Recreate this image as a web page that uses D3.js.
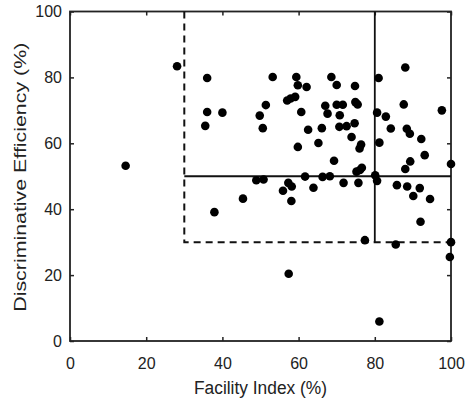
<!DOCTYPE html>
<meta charset="utf-8">

<script src="https://cdn.jsdelivr.net/npm/d3@7"></script>

<style>
    body { margin: 0; background: #fff; }
    text { font-family: "Liberation Sans", Arial, sans-serif; fill: #222; }
</style>

<div id="my_dataviz"></div>

<script>
    // facility index (%) and discriminative efficiency (%) per item
    const facility = [
        14.6, 28.1, 36.0, 36.0, 35.5, 40.0, 37.9, 45.4, 53.2, 51.4,
        49.8, 50.6, 48.9, 50.8, 55.9, 57.3, 58.2, 58.1, 57.4, 57.0,
        57.9, 59.1, 59.4, 59.8, 60.7, 59.8, 62.1, 62.5, 61.7, 63.9,
        65.2, 66.1, 66.3, 67.0, 67.6, 68.6, 68.2, 69.3, 70.0, 70.0,
        71.6, 70.8, 70.7, 72.6, 71.8, 73.9, 74.7, 74.8, 74.9, 75.5,
        76.0, 76.4, 75.7, 75.2, 76.1, 76.6, 77.4, 80.1, 80.6, 81.0,
        80.6, 81.2, 81.2, 82.9, 84.2, 85.8, 85.5, 88.0, 87.6, 88.4,
        89.2, 89.3, 88.0, 88.5, 90.1, 91.8, 92.2, 93.1, 92.0, 94.5,
        97.6, 100, 100, 99.7
    ];
    const efficiency = [
        53.2, 83.4, 79.8, 69.5, 65.3, 69.3, 39.1, 43.2, 80.1, 71.6,
        68.4, 64.6, 48.8, 49.0, 45.6, 48.0, 46.9, 42.5, 20.4, 73.0,
        73.6, 74.1, 80.1, 77.6, 69.5, 58.9, 77.1, 64.1, 49.9, 46.5,
        60.1, 64.6, 49.8, 71.4, 69.0, 80.1, 50.0, 54.7, 77.7, 71.7,
        71.7, 68.5, 65.0, 65.2, 48.0, 61.9, 66.1, 77.4, 72.5, 71.8,
        58.4, 59.6, 48.0, 51.4, 51.9, 52.6, 30.6, 50.3, 48.6, 79.8,
        69.3, 60.2, 5.9, 68.1, 64.5, 47.3, 29.3, 83.0, 71.8, 64.4,
        62.9, 54.5, 52.2, 46.9, 44.0, 46.4, 61.3, 56.4, 36.2, 43.1,
        70.0, 53.7, 30.0, 25.5
    ];
    const xTicks = [0, 20, 40, 60, 80, 100];
    const yTicks = [0, 20, 40, 60, 80, 100];

    // region boundaries (data units)
    const fiLow = 30, fiHigh = 80;
    const deLow = 30, deMid = 50;

    let margin = {top: 11.5, right: 16, bottom: 62, left: 70},
        width = 467 - margin.left - margin.right,
        height = 403 - margin.top - margin.bottom;

    let svg = d3.select("#my_dataviz").append("svg")
        .attr("width", 467)
        .attr("height", 403)
    ;

    let g = svg.append("g")
        .attr("transform", `translate(${margin.left},${margin.top})`)
    ;

    let xScale = d3.scaleLinear().domain([0, 100]).range([0, width]);
    let yScale = d3.scaleLinear().domain([0, 100]).range([height, 0]);

    // axes with inward ticks
    let xAxis = d3.axisBottom(xScale).tickValues(xTicks).tickSize(-4).tickPadding(17);
    let yAxis = d3.axisLeft(yScale).tickValues(yTicks).tickSize(-4).tickPadding(8);
    let xTop = d3.axisTop(xScale).tickValues(xTicks).tickSize(-4).tickFormat("");
    let yRight = d3.axisRight(yScale).tickValues(yTicks).tickSize(-4).tickFormat("");

    g.append("g").attr("transform", `translate(0,${height})`).call(xAxis);
    g.append("g").call(yAxis);
    g.append("g").call(xTop);
    g.append("g").attr("transform", `translate(${width},0)`).call(yRight);

    g.selectAll(".domain").remove();
    g.selectAll(".tick line").attr("stroke", "#222").attr("stroke-width", 1.5);
    g.selectAll(".tick text").style("font-size", "16px").attr("fill", "#222");

    g.append("rect")
        .attr("width", width)
        .attr("height", height)
        .attr("fill", "none")
        .attr("stroke", "#222")
        .attr("stroke-width", 1.8)
    ;

    // dashed box
    g.append("path")
        .attr("d", `M${xScale(fiLow)},${yScale(100)} V${yScale(deLow)} H${xScale(100)}`)
        .attr("fill", "none")
        .attr("stroke", "#111")
        .attr("stroke-width", 2)
        .attr("stroke-dasharray", "7,5")
    ;

    // solid lines
    g.append("line")
        .attr("x1", xScale(fiLow)).attr("x2", xScale(100))
        .attr("y1", yScale(deMid)).attr("y2", yScale(deMid))
        .attr("stroke", "#111").attr("stroke-width", 1.8)
    ;
    g.append("line")
        .attr("x1", xScale(fiHigh)).attr("x2", xScale(fiHigh))
        .attr("y1", yScale(100)).attr("y2", yScale(deLow))
        .attr("stroke", "#111").attr("stroke-width", 1.8)
    ;

    g.selectAll("dot")
        .data(d3.zip(facility, efficiency))
        .enter()
        .append("circle")
        .attr("cx", d => xScale(d[0]))
        .attr("cy", d => yScale(d[1]))
        .attr("r", 4.3)
        .style("fill", "#000")
    ;

    g.append("text")
        .attr("x", width / 2)
        .attr("y", height + 53)
        .attr("text-anchor", "middle")
        .attr("textLength", 133)
        .attr("lengthAdjust", "spacingAndGlyphs")
        .style("font-size", "18px")
        .text("Facility Index (%)")
    ;

    g.append("text")
        .attr("transform", `translate(${-44},${height / 2 + 1}) rotate(-90)`)
        .attr("text-anchor", "middle")
        .attr("textLength", 269)
        .attr("lengthAdjust", "spacingAndGlyphs")
        .style("font-size", "17px")
        .text("Discriminative Efficiency (%)")
    ;
</script>
